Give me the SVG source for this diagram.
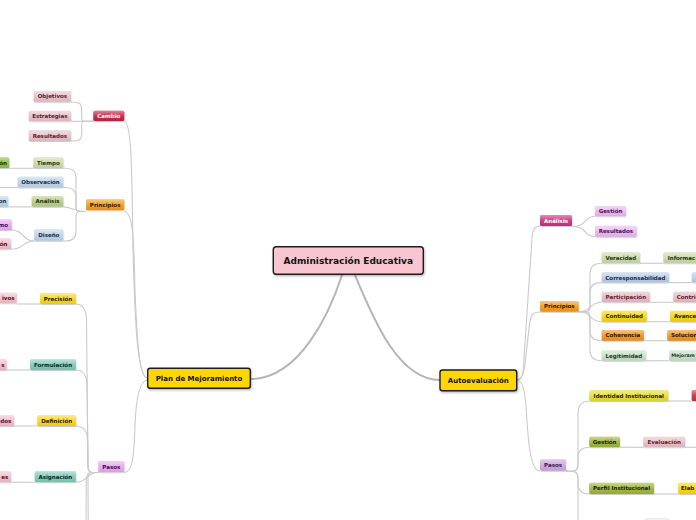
<svg xmlns="http://www.w3.org/2000/svg" width="696" height="520" viewBox="0 0 696 520">
<defs>
<linearGradient id="gl" x1="0" y1="0" x2="0" y2="1">
<stop offset="0" stop-color="#fff" stop-opacity="0.45"/>
<stop offset="0.5" stop-color="#fff" stop-opacity="0.08"/>
<stop offset="1" stop-color="#000" stop-opacity="0.06"/>
</linearGradient>
<filter id="sh" x="-20%" y="-30%" width="140%" height="180%">
<feDropShadow dx="0.3" dy="0.8" stdDeviation="0.6" flood-color="#000" flood-opacity="0.25"/>
</filter>
<filter id="shm" x="-10%" y="-20%" width="120%" height="160%">
<feDropShadow dx="0.8" dy="1.2" stdDeviation="0.9" flood-color="#000" flood-opacity="0.3"/>
</filter>
</defs>
<style>
.c{fill:none;stroke:#cacaca;stroke-width:1.1}
.cm{fill:none;stroke:#b5b5b5;stroke-width:2}
.b{filter:url(#sh)}
.g{fill:url(#gl)}
.m{filter:url(#shm);stroke:#1e1e1e;stroke-width:1.4}
text{font-family:"DejaVu Sans",Verdana,sans-serif;font-weight:bold;font-size:5.5px;text-anchor:middle}
.e{text-anchor:end}
.s{text-anchor:start}
.tm{font-size:7px;fill:#111}
.tc{font-size:9px;fill:#111}
</style>
<rect width="696" height="520" fill="#fff"/>
<g id="connectors">
<path class="cm" d="M342,275 C330,312 300,379 250.3,379"/>
<path class="cm" d="M355,275 C373,318 398,380 440,380"/>
<path class="c" d="M147.7,378 C138,378 135,330 133,250 C132,180 132,121.5 124.3,121.5"/>
<path class="c" d="M147.7,378 C139,378 137,340 135,290 C134,240 133,211.5 124.3,211.5"/>
<path class="c" d="M147.7,380 C139,380 136,400 135,425 C134,455 133,472.5 124.3,472.5"/>
<path class="c" d="M93.3,121.3 H84 Q81.7,121.3 81.7,117 V109 Q81.7,102.3 75,102.3 H71"/>
<path class="c" d="M93.3,121.3 H71"/>
<path class="c" d="M93.3,121.3 H84 Q81.7,121.3 81.7,126 V134 Q81.7,141 75,141 H71"/>
<path class="c" d="M86,211.5 H80 Q76,211.5 76,207 V178 Q76,168.3 66,168.3 H63.3"/>
<path class="c" d="M86,211.5 H80 Q76,211.5 76,207 V197 Q76,187.5 66,187.5 H63.3"/>
<path class="c" d="M86,211.5 C74,211.5 72,206.9 63.3,206.9"/>
<path class="c" d="M86,211.5 H80 Q76,211.5 76,216 V231 Q76,241 66,241 H63.3"/>
<path class="c" d="M34.3,241 C22,241 24,230 11.7,230"/>
<path class="c" d="M34.3,241 C22,241 24,249.3 11,249.3"/>
<path class="c" d="M9.3,168.3 H33.3"/>
<path class="c" d="M0,187.5 H17.7"/>
<path class="c" d="M8.3,206.9 H31.7"/>
<path class="c" d="M98.3,472.5 H92 Q88,472.5 88,466 L86.5,320 Q86,304 76,304"/>
<path class="c" d="M98.3,472.5 H92 Q88,472.5 88,466 L87,385 Q86.5,370 76,370"/>
<path class="c" d="M98.3,472.5 H92 Q88,472.5 88,466 L87.5,440 Q87,426 76,426"/>
<path class="c" d="M98.3,472.5 C86,472.5 88,482.3 76,482.3"/>
<path class="c" d="M98.3,472.5 H92 Q88,472.5 88,479 L88.3,530"/>
<path class="c" d="M98.3,472.5 H91 Q86.5,472.5 86.3,480 L86,530"/>
<path class="c" d="M16.7,304 H40"/>
<path class="c" d="M6.7,370 H30"/>
<path class="c" d="M14,426 H37.3"/>
<path class="c" d="M11,482.3 H34.7"/>
<path class="c" d="M516.7,380 C522,380 523,374 523.5,366 L532,238 C532.7,229 535,226.3 540,226.3"/>
<path class="c" d="M516.7,380 C522,380 524,372 525,364 L529.5,324 C530.5,315 533,312 540,312"/>
<path class="c" d="M516.7,380 C523,380 525,392 526,406 C528,440 530,471 540,471"/>
<path class="c" d="M572,226.5 C588,226.5 583,216.3 595,216.3"/>
<path class="c" d="M572,226.5 C588,226.5 583,236.7 595,236.7"/>
<path class="c" d="M578.7,311.8 H585 Q590,311.8 590,306 V274 Q590,263.3 601.7,263.3"/>
<path class="c" d="M578.7,311.8 H585 Q590,311.8 590,306 V292 Q590,282.6 601.7,282.6"/>
<path class="c" d="M578.7,311.8 C592,311.8 589,302.3 601.7,302.3"/>
<path class="c" d="M578.7,311.8 C592,311.8 589,321.7 601.7,321.7"/>
<path class="c" d="M578.7,311.8 H585 Q590,311.8 590,318 V331 Q590,340.7 601.7,340.7"/>
<path class="c" d="M578.7,311.8 H585 Q590,311.8 590,318 V350 Q590,360.7 601.7,360.7"/>
<path class="c" d="M566,471.2 H572 Q578,471.2 578,465 V413 Q578.5,401 589.3,401"/>
<path class="c" d="M566,471.2 H572 Q578,471.2 578,465 V458 Q578,447.3 589.3,447.3"/>
<path class="c" d="M566,471.2 H572 Q578,471.2 578,478 V483 Q578,494 589.3,494"/>
<path class="c" d="M566,471.2 H572 Q578,471.2 578,478 V530"/>
<path class="c" d="M640,263.3 H663.3"/>
<path class="c" d="M669,282.6 H691.7"/>
<path class="c" d="M650,302.3 H673.3"/>
<path class="c" d="M646.7,321.7 H670"/>
<path class="c" d="M644,340.7 H667.3"/>
<path class="c" d="M646,360.7 H669"/>
<path class="c" d="M668.3,401 H691.7"/>
<path class="c" d="M620,447.3 H643.3"/>
<path class="c" d="M685,447.3 H700"/>
<path class="c" d="M654,494 H678.3"/>
</g>
<g id="n-central"><rect class="m" x="273.3" y="246.7" width="150" height="27.6" rx="3" fill="#f9c5d1"/><text class="tc" x="348.3" y="264">Administración Educativa</text></g>
<g id="n-plan"><rect class="m" x="147.7" y="368.3" width="102.6" height="20" rx="2.5" fill="#ffd700"/><text class="tm" x="199" y="381">Plan de Mejoramiento</text></g>
<g id="n-auto"><rect class="m" x="440" y="370" width="76.7" height="20.7" rx="2.5" fill="#ffd700"/><text class="tm" x="478.3" y="382.8">Autoevaluación</text></g>

<g id="n-cambio"><rect class="b" x="93.3" y="110.7" width="31" height="10.3" rx="1.5" fill="#c42442"/><rect class="g" x="93.3" y="110.7" width="31" height="10.3" rx="1.5"/><text x="108.8" y="117.9" fill="#fff">Cambio</text></g>
<g id="n-objetivos"><rect class="b" x="33.7" y="91" width="37.3" height="10.7" rx="1.5" fill="#e6c3ca"/><rect class="g" x="33.7" y="91" width="37.3" height="10.7" rx="1.5"/><text x="52.35" y="98.4" fill="#5c1b2b">Objetivos</text></g>
<g id="n-estrategias"><rect class="b" x="28.7" y="110.7" width="42.3" height="10.5" rx="1.5" fill="#e6c3ca"/><rect class="g" x="28.7" y="110.7" width="42.3" height="10.5" rx="1.5"/><text x="49.85" y="118" fill="#5c1b2b">Estrategias</text></g>
<g id="n-resultados-l"><rect class="b" x="28.7" y="130" width="42.3" height="11" rx="1.5" fill="#e6c3ca"/><rect class="g" x="28.7" y="130" width="42.3" height="11" rx="1.5"/><text x="49.85" y="137.5" fill="#5c1b2b">Resultados</text></g>
<g id="n-principios-l"><rect class="b" x="86" y="199.3" width="38.3" height="10.9" rx="1.5" fill="#f39a1c"/><rect class="g" x="86" y="199.3" width="38.3" height="10.9" rx="1.5"/><text x="105.15" y="206.8" fill="#2e1a00">Principios</text></g>
<g id="n-tiempo"><rect class="b" x="33.3" y="157.3" width="30" height="10.7" rx="1.5" fill="#cfd9a6"/><rect class="g" x="33.3" y="157.3" width="30" height="10.7" rx="1.5"/><text x="48.3" y="164.7" fill="#2b3810">Tiempo</text></g>
<g id="n-on-green"><rect class="b" x="-5" y="157.3" width="14.3" height="10.7" rx="1.5" fill="#8dc04b"/><rect class="g" x="-5" y="157.3" width="14.3" height="10.7" rx="1.5"/><text class="e" x="7" y="164.7" fill="#1a3000">ón</text></g>
<g id="n-observacion"><rect class="b" x="17.7" y="176.7" width="45.6" height="10.8" rx="1.5" fill="#bdd3ea"/><rect class="g" x="17.7" y="176.7" width="45.6" height="10.8" rx="1.5"/><text x="40.5" y="184.1" fill="#1b2b45">Observación</text></g>
<g id="n-analisis-l"><rect class="b" x="31.7" y="196" width="31.6" height="10.7" rx="1.5" fill="#b9cd8a"/><rect class="g" x="31.7" y="196" width="31.6" height="10.7" rx="1.5"/><text x="47.5" y="203.4" fill="#243410">Análisis</text></g>
<g id="n-on-blue"><rect class="b" x="-5" y="196" width="13.3" height="10.7" rx="1.5" fill="#bdd3ea"/><rect class="g" x="-5" y="196" width="13.3" height="10.7" rx="1.5"/><text class="e" x="6.5" y="203.4" fill="#1b2b45">on</text></g>
<g id="n-diseno"><rect class="b" x="34.3" y="229.3" width="29" height="11.4" rx="1.5" fill="#bdd3ea"/><rect class="g" x="34.3" y="229.3" width="29" height="11.4" rx="1.5"/><text x="48.8" y="237" fill="#1b2b45">Diseño</text></g>
<g id="n-mo"><rect class="b" x="-5" y="219.3" width="16.7" height="10.7" rx="1.5" fill="#e9a9f1"/><rect class="g" x="-5" y="219.3" width="16.7" height="10.7" rx="1.5"/><text class="e" x="8" y="226.7" fill="#3e1048">mo</text></g>
<g id="n-on-pink"><rect class="b" x="-5" y="238.3" width="16" height="11" rx="1.5" fill="#f5bdcc"/><rect class="g" x="-5" y="238.3" width="16" height="11" rx="1.5"/><text class="e" x="7.5" y="245.8" fill="#4a1020">ón</text></g>
<g id="n-pasos-l"><rect class="b" x="98.3" y="461" width="26" height="11.3" rx="1.5" fill="#e9a6f1"/><rect class="g" x="98.3" y="461" width="26" height="11.3" rx="1.5"/><text x="111.3" y="468.7" fill="#3a0f45">Pasos</text></g>
<g id="n-precision"><rect class="b" x="40" y="293.3" width="36" height="10.7" rx="1.5" fill="#f6d81e"/><rect class="g" x="40" y="293.3" width="36" height="10.7" rx="1.5"/><text x="58" y="300.7" fill="#2a2000">Precisión</text></g>
<g id="n-ivos"><rect class="b" x="-5" y="292.7" width="21.7" height="10.6" rx="1.5" fill="#f5bdcc"/><rect class="g" x="-5" y="292.7" width="21.7" height="10.6" rx="1.5"/><text class="e" x="14.5" y="300" fill="#4a1020">ivos</text></g>
<g id="n-formulacion"><rect class="b" x="30" y="359.3" width="46" height="10.7" rx="1.5" fill="#82c9b9"/><rect class="g" x="30" y="359.3" width="46" height="10.7" rx="1.5"/><text x="53" y="366.7" fill="#0b2b22">Formulación</text></g>
<g id="n-s"><rect class="b" x="-5" y="359.3" width="11.7" height="10.7" rx="1.5" fill="#f5bdcc"/><rect class="g" x="-5" y="359.3" width="11.7" height="10.7" rx="1.5"/><text class="e" x="4.5" y="366.7" fill="#4a1020">s</text></g>
<g id="n-definicion"><rect class="b" x="37.3" y="415.3" width="38.7" height="10.7" rx="1.5" fill="#f6d81e"/><rect class="g" x="37.3" y="415.3" width="38.7" height="10.7" rx="1.5"/><text x="56.65" y="422.7" fill="#2a2000">Definición</text></g>
<g id="n-dos"><rect class="b" x="-5" y="415.3" width="19" height="10.7" rx="1.5" fill="#f5bdcc"/><rect class="g" x="-5" y="415.3" width="19" height="10.7" rx="1.5"/><text class="e" x="11.3" y="422.7" fill="#4a1020">dos</text></g>
<g id="n-asignacion"><rect class="b" x="34.7" y="471.3" width="41.3" height="11" rx="1.5" fill="#82c9b9"/><rect class="g" x="34.7" y="471.3" width="41.3" height="11" rx="1.5"/><text x="55.35" y="478.8" fill="#0b2b22">Asignación</text></g>
<g id="n-es"><rect class="b" x="-5" y="471.3" width="16" height="11" rx="1.5" fill="#f5bdcc"/><rect class="g" x="-5" y="471.3" width="16" height="11" rx="1.5"/><text class="e" x="8.3" y="478.8" fill="#4a1020">es</text></g>

<g id="n-analisis-r"><rect class="b" x="540" y="215" width="32" height="11" rx="1.5" fill="#c9317d"/><rect class="g" x="540" y="215" width="32" height="11" rx="1.5"/><text x="556" y="222.5" fill="#fff">Análisis</text></g>
<g id="n-gestion-r1"><rect class="b" x="595" y="206" width="31" height="10.3" rx="1.5" fill="#eab8f3"/><rect class="g" x="595" y="206" width="31" height="10.3" rx="1.5"/><text x="610.5" y="213.2" fill="#4a1052">Gestión</text></g>
<g id="n-resultados-r"><rect class="b" x="595" y="225.7" width="41.7" height="11" rx="1.5" fill="#eab8f3"/><rect class="g" x="595" y="225.7" width="41.7" height="11" rx="1.5"/><text x="615.85" y="233.2" fill="#4a1052">Resultados</text></g>
<g id="n-principios-r"><rect class="b" x="540" y="301" width="38.7" height="10.7" rx="1.5" fill="#f39a1c"/><rect class="g" x="540" y="301" width="38.7" height="10.7" rx="1.5"/><text x="559.35" y="308.4" fill="#2e1a00">Principios</text></g>
<g id="n-veracidad"><rect class="b" x="601.7" y="252.3" width="38.3" height="11" rx="1.5" fill="#cbd9a9"/><rect class="g" x="601.7" y="252.3" width="38.3" height="11" rx="1.5"/><text x="620.85" y="259.8" fill="#23360f">Veracidad</text></g>
<g id="n-informac"><rect class="b" x="663.3" y="252.3" width="40" height="11" rx="1.5" fill="#cbd9a9"/><rect class="g" x="663.3" y="252.3" width="40" height="11" rx="1.5"/><text class="s" x="667.7" y="259.8" fill="#23360f">Informac</text></g>
<g id="n-corresp"><rect class="b" x="601.7" y="272.3" width="67.3" height="10.3" rx="1.5" fill="#b9cde7"/><rect class="g" x="601.7" y="272.3" width="67.3" height="10.3" rx="1.5"/><text x="635.35" y="279.5" fill="#1b2b45">Corresponsabilidad</text></g>
<g id="n-blue-r"><rect class="b" x="691.7" y="272.3" width="10" height="10.3" rx="1.5" fill="#b9cde7"/><rect class="g" x="691.7" y="272.3" width="10" height="10.3" rx="1.5"/></g>
<g id="n-participacion"><rect class="b" x="601.7" y="291.7" width="48.3" height="10.6" rx="1.5" fill="#e3bdc5"/><rect class="g" x="601.7" y="291.7" width="48.3" height="10.6" rx="1.5"/><text x="625.85" y="299" fill="#6b1a2c">Participación</text></g>
<g id="n-contri"><rect class="b" x="673.3" y="291.7" width="30" height="10.6" rx="1.5" fill="#e3bdc5"/><rect class="g" x="673.3" y="291.7" width="30" height="10.6" rx="1.5"/><text class="s" x="676.7" y="299" fill="#6b1a2c">Contri</text></g>
<g id="n-continuidad"><rect class="b" x="601.7" y="310.7" width="45" height="11" rx="1.5" fill="#f6d60f"/><rect class="g" x="601.7" y="310.7" width="45" height="11" rx="1.5"/><text x="624.2" y="318.2" fill="#2a2200">Continuidad</text></g>
<g id="n-avance"><rect class="b" x="670" y="310.7" width="30" height="11" rx="1.5" fill="#f6d60f"/><rect class="g" x="670" y="310.7" width="30" height="11" rx="1.5"/><text class="s" x="674" y="318.2" fill="#2a2200">Avance</text></g>
<g id="n-coherencia"><rect class="b" x="601.7" y="330" width="42.3" height="10.7" rx="1.5" fill="#f29222"/><rect class="g" x="601.7" y="330" width="42.3" height="10.7" rx="1.5"/><text x="622.85" y="337.4" fill="#2e1600">Coherencia</text></g>
<g id="n-solucion"><rect class="b" x="667.3" y="330" width="35" height="10.7" rx="1.5" fill="#f29222"/><rect class="g" x="667.3" y="330" width="35" height="10.7" rx="1.5"/><text class="s" x="671" y="337.4" fill="#2e1600">Solucion</text></g>
<g id="n-legitimidad"><rect class="b" x="601.7" y="350.3" width="44.3" height="10.4" rx="1.5" fill="#c8e1c9"/><rect class="g" x="601.7" y="350.3" width="44.3" height="10.4" rx="1.5"/><text x="623.85" y="357.5" fill="#1d3a1e">Legitimidad</text></g>
<g id="n-mejoram"><rect class="b" x="669" y="350.3" width="35" height="10.4" rx="1.5" fill="#c8e1c9"/><rect class="g" x="669" y="350.3" width="35" height="10.4" rx="1.5"/><text class="s" x="671.2" y="357.4" fill="#1d3a1e" style="font-size:4.8px">Mejoram</text></g>
<g id="n-pasos-r"><rect class="b" x="540" y="459.3" width="26" height="11.4" rx="1.5" fill="#cda6dd"/><rect class="g" x="540" y="459.3" width="26" height="11.4" rx="1.5"/><text x="553" y="467" fill="#3b1a4c">Pasos</text></g>
<g id="n-identidad"><rect class="b" x="589.3" y="390" width="79" height="11" rx="1.5" fill="#e9dc3a"/><rect class="g" x="589.3" y="390" width="79" height="11" rx="1.5"/><text x="628.8" y="397.5" fill="#2a2800">Identidad Institucional</text></g>
<g id="n-crimson-r"><rect class="b" x="691.7" y="390" width="10" height="11" rx="1.5" fill="#c8303e"/><rect class="g" x="691.7" y="390" width="10" height="11" rx="1.5"/></g>
<g id="n-gestion-r2"><rect class="b" x="589.3" y="436.7" width="30.7" height="10.6" rx="1.5" fill="#9db43d"/><rect class="g" x="589.3" y="436.7" width="30.7" height="10.6" rx="1.5"/><text x="604.65" y="444" fill="#1a2800">Gestión</text></g>
<g id="n-evaluacion"><rect class="b" x="643.3" y="436.7" width="41.7" height="10.6" rx="1.5" fill="#e6c1c9"/><rect class="g" x="643.3" y="436.7" width="41.7" height="10.6" rx="1.5"/><text x="664.15" y="444" fill="#6b1a2c">Evaluación</text></g>
<g id="n-perfil"><rect class="b" x="589.3" y="482.7" width="64.7" height="11.3" rx="1.5" fill="#9db43d"/><rect class="g" x="589.3" y="482.7" width="64.7" height="11.3" rx="1.5"/><text x="621.65" y="490.4" fill="#1a2800">Perfil Institucional</text></g>
<g id="n-elab"><rect class="b" x="678.3" y="482.7" width="25" height="11.3" rx="1.5" fill="#f6d60f"/><rect class="g" x="678.3" y="482.7" width="25" height="11.3" rx="1.5"/><text class="s" x="681" y="490.4" fill="#2a2200">Elab</text></g>
<g id="n-bottom"><rect x="645" y="518.6" width="24" height="10" rx="1.5" fill="#f2f2f2" stroke="#dcdcdc" stroke-width="0.6"/></g>
</svg>
